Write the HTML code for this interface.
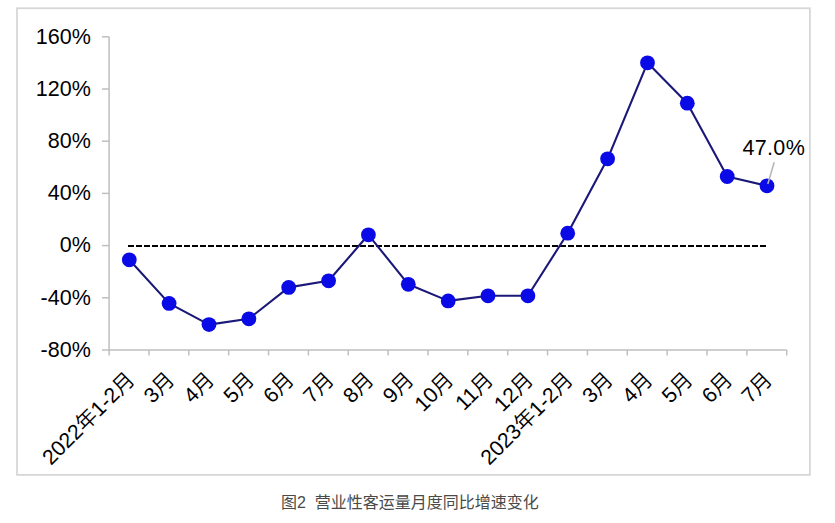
<!DOCTYPE html><html><head><meta charset="utf-8"><style>html,body{margin:0;padding:0;background:#fff;}body{width:835px;height:523px;overflow:hidden;}svg{display:block;}</style></head><body>
<svg width="835" height="523" viewBox="0 0 835 523">
<rect x="17" y="8.25" width="792.9" height="466.65" fill="#fff" stroke="#d6d6d6" stroke-width="1.75"/>
<line x1="109.10" y1="36.80" x2="109.10" y2="350.00" stroke="#bfbfbf" stroke-width="1.5"/>
<line x1="102" y1="36.8" x2="109.1" y2="36.8" stroke="#bfbfbf" stroke-width="1.5"/>
<line x1="102" y1="89.0" x2="109.1" y2="89.0" stroke="#bfbfbf" stroke-width="1.5"/>
<line x1="102" y1="141.2" x2="109.1" y2="141.2" stroke="#bfbfbf" stroke-width="1.5"/>
<line x1="102" y1="193.4" x2="109.1" y2="193.4" stroke="#bfbfbf" stroke-width="1.5"/>
<line x1="102" y1="245.6" x2="109.1" y2="245.6" stroke="#bfbfbf" stroke-width="1.5"/>
<line x1="102" y1="297.8" x2="109.1" y2="297.8" stroke="#bfbfbf" stroke-width="1.5"/>
<line x1="102" y1="350.0" x2="109.1" y2="350.0" stroke="#bfbfbf" stroke-width="1.5"/>
<line x1="108.35" y1="350.00" x2="786.72" y2="350.00" stroke="#bfbfbf" stroke-width="1.5"/>
<line x1="109.10" y1="350.00" x2="109.10" y2="355.50" stroke="#bfbfbf" stroke-width="1.5"/>
<line x1="148.96" y1="350.00" x2="148.96" y2="355.50" stroke="#bfbfbf" stroke-width="1.5"/>
<line x1="188.82" y1="350.00" x2="188.82" y2="355.50" stroke="#bfbfbf" stroke-width="1.5"/>
<line x1="228.68" y1="350.00" x2="228.68" y2="355.50" stroke="#bfbfbf" stroke-width="1.5"/>
<line x1="268.54" y1="350.00" x2="268.54" y2="355.50" stroke="#bfbfbf" stroke-width="1.5"/>
<line x1="308.40" y1="350.00" x2="308.40" y2="355.50" stroke="#bfbfbf" stroke-width="1.5"/>
<line x1="348.26" y1="350.00" x2="348.26" y2="355.50" stroke="#bfbfbf" stroke-width="1.5"/>
<line x1="388.12" y1="350.00" x2="388.12" y2="355.50" stroke="#bfbfbf" stroke-width="1.5"/>
<line x1="427.98" y1="350.00" x2="427.98" y2="355.50" stroke="#bfbfbf" stroke-width="1.5"/>
<line x1="467.84" y1="350.00" x2="467.84" y2="355.50" stroke="#bfbfbf" stroke-width="1.5"/>
<line x1="507.70" y1="350.00" x2="507.70" y2="355.50" stroke="#bfbfbf" stroke-width="1.5"/>
<line x1="547.56" y1="350.00" x2="547.56" y2="355.50" stroke="#bfbfbf" stroke-width="1.5"/>
<line x1="587.42" y1="350.00" x2="587.42" y2="355.50" stroke="#bfbfbf" stroke-width="1.5"/>
<line x1="627.28" y1="350.00" x2="627.28" y2="355.50" stroke="#bfbfbf" stroke-width="1.5"/>
<line x1="667.14" y1="350.00" x2="667.14" y2="355.50" stroke="#bfbfbf" stroke-width="1.5"/>
<line x1="707.00" y1="350.00" x2="707.00" y2="355.50" stroke="#bfbfbf" stroke-width="1.5"/>
<line x1="746.86" y1="350.00" x2="746.86" y2="355.50" stroke="#bfbfbf" stroke-width="1.5"/>
<line x1="786.72" y1="350.00" x2="786.72" y2="355.50" stroke="#bfbfbf" stroke-width="1.5"/>
<text x="90.8" y="43.6" text-anchor="end" font-family='"Liberation Sans", Arial, sans-serif' font-size="21.5" fill="#000">160%</text>
<text x="90.8" y="95.8" text-anchor="end" font-family='"Liberation Sans", Arial, sans-serif' font-size="21.5" fill="#000">120%</text>
<text x="90.8" y="148.0" text-anchor="end" font-family='"Liberation Sans", Arial, sans-serif' font-size="21.5" fill="#000">80%</text>
<text x="90.8" y="200.2" text-anchor="end" font-family='"Liberation Sans", Arial, sans-serif' font-size="21.5" fill="#000">40%</text>
<text x="90.8" y="252.4" text-anchor="end" font-family='"Liberation Sans", Arial, sans-serif' font-size="21.5" fill="#000">0%</text>
<text x="90.8" y="304.6" text-anchor="end" font-family='"Liberation Sans", Arial, sans-serif' font-size="21.5" fill="#000">-40%</text>
<text x="90.8" y="356.8" text-anchor="end" font-family='"Liberation Sans", Arial, sans-serif' font-size="21.5" fill="#000">-80%</text>
<line x1="128" y1="245.9" x2="766.5" y2="245.9" stroke="#000" stroke-width="2" stroke-dasharray="6 2"/>
<polyline points="129.3,259.8 169.1,303.4 209.0,324.6 248.9,318.8 288.7,287.4 328.6,280.8 368.4,234.8 408.3,284.3 448.2,300.9 488.0,295.8 527.9,295.8 567.7,233.2 607.6,158.8 647.5,62.8 687.3,103.2 727.2,176.5 767.0,185.8" fill="none" stroke="#1a1878" stroke-width="2.1" stroke-linejoin="round"/>
<circle cx="129.3" cy="259.8" r="7.4" fill="#0a0ae6"/>
<circle cx="169.1" cy="303.4" r="7.4" fill="#0a0ae6"/>
<circle cx="209.0" cy="324.6" r="7.4" fill="#0a0ae6"/>
<circle cx="248.9" cy="318.8" r="7.4" fill="#0a0ae6"/>
<circle cx="288.7" cy="287.4" r="7.4" fill="#0a0ae6"/>
<circle cx="328.6" cy="280.8" r="7.4" fill="#0a0ae6"/>
<circle cx="368.4" cy="234.8" r="7.4" fill="#0a0ae6"/>
<circle cx="408.3" cy="284.3" r="7.4" fill="#0a0ae6"/>
<circle cx="448.2" cy="300.9" r="7.4" fill="#0a0ae6"/>
<circle cx="488.0" cy="295.8" r="7.4" fill="#0a0ae6"/>
<circle cx="527.9" cy="295.8" r="7.4" fill="#0a0ae6"/>
<circle cx="567.7" cy="233.2" r="7.4" fill="#0a0ae6"/>
<circle cx="607.6" cy="158.8" r="7.4" fill="#0a0ae6"/>
<circle cx="647.5" cy="62.8" r="7.4" fill="#0a0ae6"/>
<circle cx="687.3" cy="103.2" r="7.4" fill="#0a0ae6"/>
<circle cx="727.2" cy="176.5" r="7.4" fill="#0a0ae6"/>
<circle cx="767.0" cy="185.8" r="7.4" fill="#0a0ae6"/>
<line x1="774.2" y1="162.3" x2="767.8" y2="184" stroke="#b4b4b4" stroke-width="1.5"/>
<text x="742.4" y="155.2" font-family='"Liberation Sans", Arial, sans-serif' font-size="21.5" letter-spacing="0.35" fill="#000">47.0%</text>
<text transform="translate(135.9,381.0) rotate(-45)" text-anchor="end" font-family='"Liberation Sans", "Noto Sans CJK SC DemiLight", "Noto Sans CJK SC", sans-serif' font-size="21.2" fill="#000">2022年1-2月</text>
<text transform="translate(175.7,381.0) rotate(-45)" text-anchor="end" font-family='"Liberation Sans", "Noto Sans CJK SC DemiLight", "Noto Sans CJK SC", sans-serif' font-size="21.2" fill="#000">3月</text>
<text transform="translate(215.6,381.0) rotate(-45)" text-anchor="end" font-family='"Liberation Sans", "Noto Sans CJK SC DemiLight", "Noto Sans CJK SC", sans-serif' font-size="21.2" fill="#000">4月</text>
<text transform="translate(255.5,381.0) rotate(-45)" text-anchor="end" font-family='"Liberation Sans", "Noto Sans CJK SC DemiLight", "Noto Sans CJK SC", sans-serif' font-size="21.2" fill="#000">5月</text>
<text transform="translate(295.3,381.0) rotate(-45)" text-anchor="end" font-family='"Liberation Sans", "Noto Sans CJK SC DemiLight", "Noto Sans CJK SC", sans-serif' font-size="21.2" fill="#000">6月</text>
<text transform="translate(335.2,381.0) rotate(-45)" text-anchor="end" font-family='"Liberation Sans", "Noto Sans CJK SC DemiLight", "Noto Sans CJK SC", sans-serif' font-size="21.2" fill="#000">7月</text>
<text transform="translate(375.0,381.0) rotate(-45)" text-anchor="end" font-family='"Liberation Sans", "Noto Sans CJK SC DemiLight", "Noto Sans CJK SC", sans-serif' font-size="21.2" fill="#000">8月</text>
<text transform="translate(414.9,381.0) rotate(-45)" text-anchor="end" font-family='"Liberation Sans", "Noto Sans CJK SC DemiLight", "Noto Sans CJK SC", sans-serif' font-size="21.2" fill="#000">9月</text>
<text transform="translate(454.8,381.0) rotate(-45)" text-anchor="end" font-family='"Liberation Sans", "Noto Sans CJK SC DemiLight", "Noto Sans CJK SC", sans-serif' font-size="21.2" fill="#000">10月</text>
<text transform="translate(494.6,381.0) rotate(-45)" text-anchor="end" font-family='"Liberation Sans", "Noto Sans CJK SC DemiLight", "Noto Sans CJK SC", sans-serif' font-size="21.2" fill="#000">11月</text>
<text transform="translate(534.5,381.0) rotate(-45)" text-anchor="end" font-family='"Liberation Sans", "Noto Sans CJK SC DemiLight", "Noto Sans CJK SC", sans-serif' font-size="21.2" fill="#000">12月</text>
<text transform="translate(574.3,381.0) rotate(-45)" text-anchor="end" font-family='"Liberation Sans", "Noto Sans CJK SC DemiLight", "Noto Sans CJK SC", sans-serif' font-size="21.2" fill="#000">2023年1-2月</text>
<text transform="translate(614.2,381.0) rotate(-45)" text-anchor="end" font-family='"Liberation Sans", "Noto Sans CJK SC DemiLight", "Noto Sans CJK SC", sans-serif' font-size="21.2" fill="#000">3月</text>
<text transform="translate(654.1,381.0) rotate(-45)" text-anchor="end" font-family='"Liberation Sans", "Noto Sans CJK SC DemiLight", "Noto Sans CJK SC", sans-serif' font-size="21.2" fill="#000">4月</text>
<text transform="translate(693.9,381.0) rotate(-45)" text-anchor="end" font-family='"Liberation Sans", "Noto Sans CJK SC DemiLight", "Noto Sans CJK SC", sans-serif' font-size="21.2" fill="#000">5月</text>
<text transform="translate(733.8,381.0) rotate(-45)" text-anchor="end" font-family='"Liberation Sans", "Noto Sans CJK SC DemiLight", "Noto Sans CJK SC", sans-serif' font-size="21.2" fill="#000">6月</text>
<text transform="translate(773.6,381.0) rotate(-45)" text-anchor="end" font-family='"Liberation Sans", "Noto Sans CJK SC DemiLight", "Noto Sans CJK SC", sans-serif' font-size="21.2" fill="#000">7月</text>
<text x="281" y="508.3" font-family='"Liberation Sans", "Noto Sans CJK SC", sans-serif' font-size="16" fill="#4a4a4a" xml:space="preserve" style="white-space:pre">图2  营业性客运量月度同比增速变化</text>
</svg></body></html>
